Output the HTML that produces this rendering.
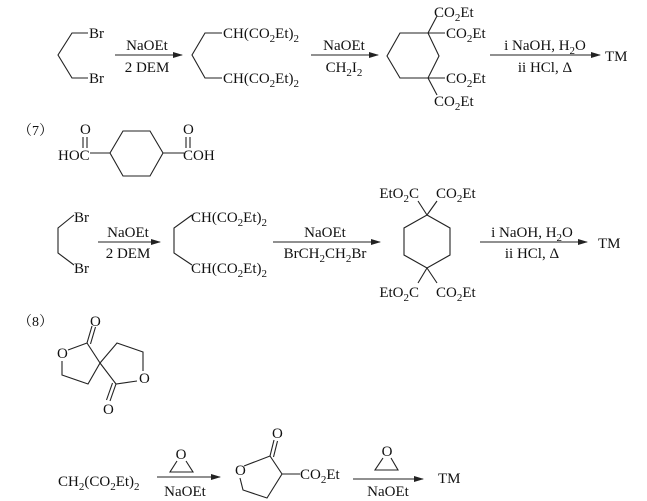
<!DOCTYPE html>
<html><head><meta charset="utf-8"><style>
html,body{margin:0;padding:0;background:#fff;}
svg{display:block;}
text{font-family:"Liberation Serif","Noto Serif CJK SC",serif;font-size:15px;fill:#111;}
.s{font-size:11px;}
line,polyline,polygon{stroke:#222;stroke-width:1.1;fill:none;}
</style></head><body>
<svg width="647" height="501" viewBox="0 0 647 501">
<defs><marker id="a" markerWidth="10" markerHeight="6" refX="9" refY="3" orient="auto" markerUnits="userSpaceOnUse"><polygon points="0,0 10,3 0,6" style="fill:#222;stroke:none"/></marker></defs>

<!-- Row 1 -->
<polyline points="88,33 72,33 58,55 72,78 88,78"/>
<text x="89" y="38">Br</text><text x="89" y="83">Br</text>
<line x1="115" y1="55" x2="182" y2="55" marker-end="url(#a)"/>
<text x="147" y="50" text-anchor="middle">NaOEt</text>
<text x="147" y="72" text-anchor="middle">2 DEM</text>
<polyline points="222,33 205,33 192,55 205,78 222,78"/>
<text x="223" y="38">CH(CO<tspan class="s" dy="4">2</tspan><tspan dy="-4">Et)</tspan><tspan class="s" dy="4">2</tspan></text>
<text x="223" y="83">CH(CO<tspan class="s" dy="4">2</tspan><tspan dy="-4">Et)</tspan><tspan class="s" dy="4">2</tspan></text>
<line x1="311" y1="55" x2="378" y2="55" marker-end="url(#a)"/>
<text x="344" y="50" text-anchor="middle">NaOEt</text>
<text x="344" y="72" text-anchor="middle">CH<tspan class="s" dy="4">2</tspan><tspan dy="-4">I</tspan><tspan class="s" dy="4">2</tspan></text>
<polygon points="400,33 428,33 439,56 428,78 400,78 387,56"/>
<line x1="428" y1="33" x2="437" y2="16"/><line x1="428" y1="33" x2="445" y2="33"/>
<line x1="428" y1="78" x2="445" y2="78"/><line x1="428" y1="78" x2="437" y2="95"/>
<text x="434" y="17">CO<tspan class="s" dy="4">2</tspan><tspan dy="-4">Et</tspan></text>
<text x="446" y="38">CO<tspan class="s" dy="4">2</tspan><tspan dy="-4">Et</tspan></text>
<text x="446" y="83">CO<tspan class="s" dy="4">2</tspan><tspan dy="-4">Et</tspan></text>
<text x="434" y="106">CO<tspan class="s" dy="4">2</tspan><tspan dy="-4">Et</tspan></text>
<line x1="490" y1="55" x2="600" y2="55" marker-end="url(#a)"/>
<text x="545" y="50" text-anchor="middle">i NaOH, H<tspan class="s" dy="4">2</tspan><tspan dy="-4">O</tspan></text>
<text x="545" y="72" text-anchor="middle">ii HCl, Δ</text>
<text x="605" y="61">TM</text>

<!-- (7) -->
<text x="18" y="135" style="font-size:14px">（7）</text>
<text x="58" y="160">HOC</text>
<text x="80" y="134">O</text>
<line x1="83" y1="137" x2="83" y2="148"/><line x1="87" y1="137" x2="87" y2="148"/>
<line x1="90" y1="153" x2="110" y2="153"/>
<polygon points="110,153 123,131 150,131 163,153 150,176 123,176"/>
<line x1="163" y1="153" x2="184" y2="153"/>
<text x="183" y="160">COH</text>
<text x="183" y="134">O</text>
<line x1="186" y1="137" x2="186" y2="148"/><line x1="190" y1="137" x2="190" y2="148"/>

<!-- Row 2 -->
<polyline points="74,215 58,228 58,253 74,265"/>
<text x="74" y="222">Br</text><text x="74" y="273">Br</text>
<line x1="98" y1="242" x2="160" y2="242" marker-end="url(#a)"/>
<text x="128" y="237" text-anchor="middle">NaOEt</text>
<text x="128" y="258" text-anchor="middle">2 DEM</text>
<polyline points="192,215 174,228 174,253 192,265"/>
<text x="191" y="222">CH(CO<tspan class="s" dy="4">2</tspan><tspan dy="-4">Et)</tspan><tspan class="s" dy="4">2</tspan></text>
<text x="191" y="273">CH(CO<tspan class="s" dy="4">2</tspan><tspan dy="-4">Et)</tspan><tspan class="s" dy="4">2</tspan></text>
<line x1="273" y1="242" x2="380" y2="242" marker-end="url(#a)"/>
<text x="325" y="237" text-anchor="middle">NaOEt</text>
<text x="325" y="258" text-anchor="middle">BrCH<tspan class="s" dy="4">2</tspan><tspan dy="-4">CH</tspan><tspan class="s" dy="4">2</tspan><tspan dy="-4">Br</tspan></text>
<polygon points="427,215 450,228 450,255 427,268 404,255 404,228"/>
<line x1="427" y1="215" x2="418" y2="201"/><line x1="427" y1="215" x2="437" y2="201"/>
<line x1="427" y1="268" x2="418" y2="283"/><line x1="427" y1="268" x2="437" y2="283"/>
<text x="419" y="198" text-anchor="end">EtO<tspan class="s" dy="4">2</tspan><tspan dy="-4">C</tspan></text>
<text x="436" y="198">CO<tspan class="s" dy="4">2</tspan><tspan dy="-4">Et</tspan></text>
<text x="419" y="297" text-anchor="end">EtO<tspan class="s" dy="4">2</tspan><tspan dy="-4">C</tspan></text>
<text x="436" y="297">CO<tspan class="s" dy="4">2</tspan><tspan dy="-4">Et</tspan></text>
<line x1="480" y1="242" x2="587" y2="242" marker-end="url(#a)"/>
<text x="532" y="237" text-anchor="middle">i NaOH, H<tspan class="s" dy="4">2</tspan><tspan dy="-4">O</tspan></text>
<text x="532" y="258" text-anchor="middle">ii HCl, Δ</text>
<text x="598" y="248">TM</text>

<!-- (8) -->
<text x="18" y="326" style="font-size:14px">（8）</text>
<polyline points="68,350 87,343 100,363 88,384 62,375 62,361"/>
<line x1="87" y1="343" x2="92" y2="326"/><line x1="90.5" y1="344" x2="95.5" y2="327"/>
<text x="90" y="326">O</text>
<text x="57" y="358">O</text>
<polyline points="100,363 117,343 143,352 143,371"/>
<polyline points="137,381 116,384 100,363"/>
<text x="139" y="383">O</text>
<line x1="116" y1="384" x2="110" y2="401"/><line x1="112.5" y1="383" x2="106.5" y2="400"/>
<text x="103" y="414">O</text>

<text x="58" y="486">CH<tspan class="s" dy="4">2</tspan><tspan dy="-4">(CO</tspan><tspan class="s" dy="4">2</tspan><tspan dy="-4">Et)</tspan><tspan class="s" dy="4">2</tspan></text>
<line x1="157" y1="477" x2="220" y2="477" marker-end="url(#a)"/>
<text x="181" y="459" text-anchor="middle">O</text>
<polyline points="177,461 170,472 193,472 186,461"/>
<text x="185" y="496" text-anchor="middle">NaOEt</text>

<polyline points="244,466 270,456 282,474 267,498 243,490 240,478"/>
<text x="235" y="475">O</text>
<line x1="270" y1="456" x2="274" y2="440"/><line x1="273.5" y1="457" x2="277.5" y2="441"/>
<text x="272" y="438">O</text>
<line x1="282" y1="474" x2="300" y2="474"/>
<text x="300" y="479">CO<tspan class="s" dy="4">2</tspan><tspan dy="-4">Et</tspan></text>
<line x1="353" y1="479" x2="423" y2="479" marker-end="url(#a)"/>
<text x="387" y="456" text-anchor="middle">O</text>
<polyline points="383,458 375,470 398,470 391,458"/>
<text x="388" y="496" text-anchor="middle">NaOEt</text>
<text x="438" y="483">TM</text>
</svg>
</body></html>
